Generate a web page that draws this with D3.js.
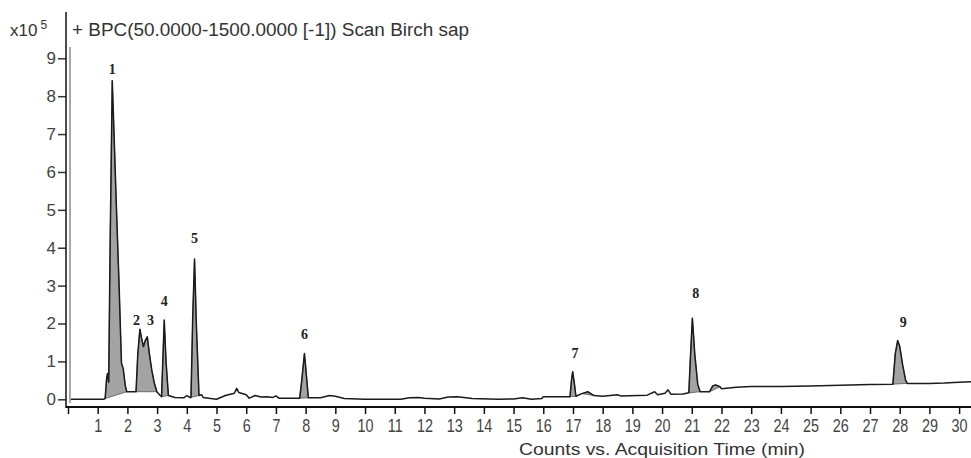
<!DOCTYPE html>
<html>
<head>
<meta charset="utf-8">
<script src="https://cdn.jsdelivr.net/npm/d3@7"></script>
<style>
  body { margin: 0; background: #fff; }
  svg { display: block; }
</style>
</head>
<body>
<svg width="971" height="458"></svg>
<script>
// chromatogram trace (time in min, counts x10^5)
var times = [0.1, 1.2, 1.25, 1.3, 1.33, 1.37, 1.42, 1.49, 1.55, 1.62, 1.72, 1.8, 1.86, 1.93, 1.98,
    2.1, 2.29, 2.35, 2.42, 2.48, 2.54, 2.6, 2.67, 2.74, 2.82, 2.9, 2.99, 3.08, 3.15, 3.2, 3.24, 3.3, 3.38,
    3.6, 3.9, 4.0, 4.1, 4.14, 4.2, 4.26, 4.32, 4.41, 4.5, 4.55, 4.8, 5.0, 5.3, 5.6, 5.68, 5.75,
    6.0, 6.1, 6.3, 6.5, 6.7, 6.9, 7.0, 7.1, 7.5, 7.8, 7.87, 7.96, 8.03, 8.09, 8.5, 8.8, 9.0, 9.3,
    10, 11.2, 11.5, 11.8, 12, 12.5, 12.8, 13.1, 13.4, 13.6, 14.5, 15.0, 15.3, 15.6, 15.95, 16.0,
    16.5, 16.9, 16.95, 16.99, 17.05, 17.1, 17.3, 17.5, 17.7, 18.0, 18.5, 18.6, 19.5, 19.75, 19.85,
    20.1, 20.2, 20.3, 20.7, 20.9, 20.96, 21.02, 21.1, 21.2, 21.28, 21.6, 21.7, 21.8, 21.95, 22.0,
    22.5, 23.0, 24, 25, 26, 27, 27.77, 27.85, 27.93, 28.0, 28.1, 28.2, 28.26, 28.5, 29, 29.5, 30, 30.4];
var counts = [0.0, 0.0, 0.02, 0.55, 0.68, 0.45, 4.2, 8.41, 7.0, 5.3, 3.0, 0.96, 0.8, 0.35, 0.2,
    0.2, 0.2, 1.2, 1.85, 1.6, 1.39, 1.55, 1.65, 1.2, 0.77, 0.45, 0.2, 0.12, 0.07, 1.2, 2.09, 1.0, 0.1,
    0.05, 0.04, 0.1, 0.05, 0.05, 2.2, 3.70, 2.0, 0.1, 0.12, 0.05, 0.02, 0.0, 0.1, 0.16, 0.29, 0.18,
    0.12, 0.03, 0.1, 0.06, 0.07, 0.05, 0.09, 0.03, 0.03, 0.03, 0.5, 1.21, 0.6, 0.04, 0.04, 0.1, 0.08, 0.02,
    0.0, 0.0, 0.04, 0.05, 0.03, 0.01, 0.06, 0.07, 0.04, 0.02, 0.0, 0.01, 0.04, 0.0, 0.02, 0.07,
    0.07, 0.07, 0.5, 0.73, 0.4, 0.08, 0.15, 0.2, 0.1, 0.08, 0.12, 0.09, 0.11, 0.2, 0.12,
    0.16, 0.25, 0.13, 0.14, 0.17, 1.2, 2.14, 1.2, 0.4, 0.2, 0.2, 0.35, 0.38, 0.33, 0.28,
    0.32, 0.34, 0.34, 0.35, 0.37, 0.39, 0.4, 1.2, 1.55, 1.4, 0.9, 0.5, 0.42, 0.42, 0.42, 0.43, 0.45, 0.46];

// integrated (shaded) regions
var fillStart = [1.25, 2.29, 3.15, 4.14, 7.8, 16.9, 17.3, 20.9, 21.6, 27.77];
var fillEnd = [1.98, 2.99, 3.38, 4.41, 8.09, 17.1, 17.7, 21.28, 21.95, 28.26];

// peak numbers
var peakNames = ["1", "2", "3", "4", "5", "6", "7", "8", "9"];
var peakTimes = [1.49, 2.31, 2.78, 3.24, 4.26, 7.96, 17.07, 21.13, 28.12];
var peakLabelY = [8.58, 1.96, 1.96, 2.46, 4.12, 1.6, 1.09, 2.67, 1.91];

var xTicks = d3.range(0, 31);
var yTicks = d3.range(0, 10);

var svg = d3.select("svg");

var x = d3.scaleLinear().domain([0, 30.4]).range([68, 971]);
var y = d3.scaleLinear().domain([0, 9]).range([399.3, 58.3]);

var data = times.map(function(t, i) { return { t: t, v: counts[i] }; });

// grey plot frame
svg.append("line")
    .attr("x1", 70).attr("x2", 70).attr("y1", 47).attr("y2", 403)
    .attr("stroke", "#a8a8a8").attr("stroke-width", 2);

// shaded peaks
var poly = d3.line().x(function(d) { return x(d.t); }).y(function(d) { return y(d.v); });
svg.append("g")
    .selectAll("path")
    .data(fillStart)
    .enter().append("path")
    .attr("d", function(s, i) {
        var pts = data.filter(function(d) { return d.t >= s && d.t <= fillEnd[i]; });
        return poly(pts) + "Z";
    })
    .attr("fill", "#a3a3a3")
    .attr("stroke", "#555")
    .attr("stroke-width", 0.8);

// trace
svg.append("path")
    .datum(data)
    .attr("d", poly)
    .attr("fill", "none")
    .attr("stroke", "#1a1a1a")
    .attr("stroke-width", 1.5)
    .attr("stroke-linejoin", "round");

// axes
var xAxis = svg.append("g")
    .attr("transform", "translate(0,407)")
    .call(d3.axisBottom(x).tickValues(xTicks).tickSize(7).tickSizeOuter(0)
        .tickFormat(function(d) { return d === 0 ? "" : d; }));
xAxis.select(".domain").remove();
xAxis.selectAll(".tick line").attr("stroke", "#111").attr("stroke-width", 1.5);
xAxis.selectAll(".tick text")
    .attr("y", 12)
    .attr("transform", "scale(0.8,1)")
    .style("font-family", "Liberation Sans, Arial, sans-serif")
    .style("font-size", "18px")
    .attr("fill", "#444");

svg.append("line")
    .attr("x1", 66).attr("x2", 971).attr("y1", 407).attr("y2", 407)
    .attr("stroke", "#111").attr("stroke-width", 2);

var yAxis = svg.append("g")
    .attr("transform", "translate(66,0)")
    .call(d3.axisLeft(y).tickValues(yTicks).tickSize(8).tickSizeOuter(0));
yAxis.select(".domain").remove();
yAxis.selectAll(".tick line").attr("stroke", "#333").attr("stroke-width", 1.5);
yAxis.selectAll(".tick text")
    .attr("x", -10)
    .style("font-family", "Liberation Sans, Arial, sans-serif")
    .style("font-size", "17px")
    .attr("fill", "#444");

svg.append("line")
    .attr("x1", 66).attr("x2", 66).attr("y1", 12).attr("y2", 408)
    .attr("stroke", "#111").attr("stroke-width", 1.5);

// peak numbers
svg.append("g")
    .selectAll("text")
    .data(peakNames)
    .enter().append("text")
    .attr("x", function(d, i) { return x(peakTimes[i]); })
    .attr("y", function(d, i) { return y(peakLabelY[i]); })
    .attr("text-anchor", "middle")
    .style("font-family", "Liberation Serif, Times New Roman, serif")
    .style("font-weight", "bold")
    .style("font-size", "14px")
    .attr("fill", "#222")
    .text(function(d) { return d; });

// titles
var head = svg.append("text")
    .attr("x", 10).attr("y", 36)
    .style("font-family", "Liberation Sans, Arial, sans-serif")
    .style("font-size", "17px")
    .attr("fill", "#333");
head.append("tspan").text("x10");
head.append("tspan").attr("dx", 3).attr("dy", -7).style("font-size", "12px").text("5");

svg.append("text")
    .attr("x", 72).attr("y", 36)
    .attr("textLength", 397)
    .attr("lengthAdjust", "spacingAndGlyphs")
    .style("font-family", "Liberation Sans, Arial, sans-serif")
    .style("font-size", "18px")
    .attr("fill", "#333")
    .text("+ BPC(50.0000-1500.0000 [-1]) Scan Birch sap");

svg.append("text")
    .attr("x", 519).attr("y", 455)
    .attr("textLength", 286)
    .attr("lengthAdjust", "spacingAndGlyphs")
    .style("font-family", "Liberation Sans, Arial, sans-serif")
    .style("font-size", "17px")
    .attr("fill", "#333")
    .text("Counts vs. Acquisition Time (min)");
</script>
</body>
</html>
